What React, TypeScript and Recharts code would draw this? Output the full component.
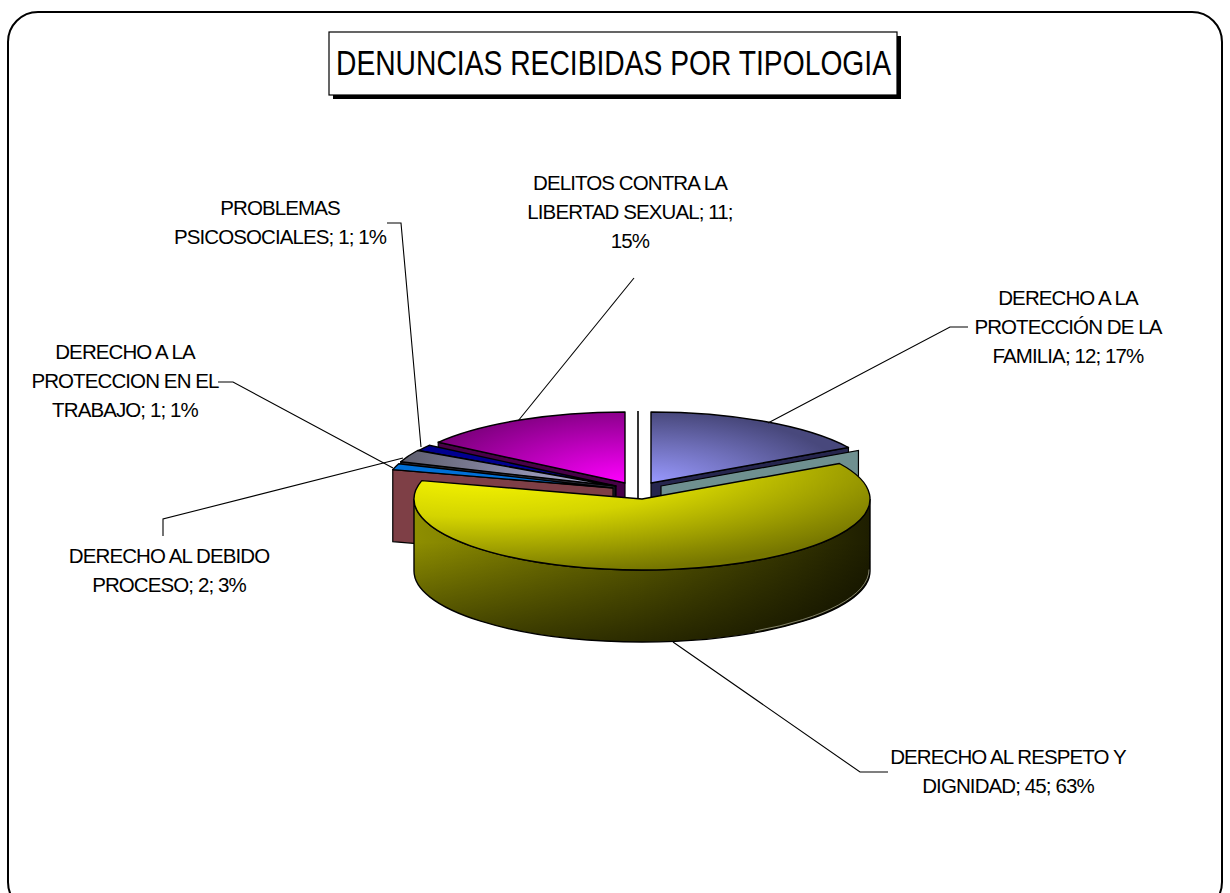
import React from 'react';
import { PieChart, Pie } from 'recharts';

const categories = [
  'DERECHO A LA PROTECCIÓN DE LA FAMILIA',
  'DELITOS CONTRA LA LIBERTAD SEXUAL',
  'PROBLEMAS PSICOSOCIALES',
  'DERECHO AL DEBIDO PROCESO',
  'DERECHO A LA PROTECCION EN EL TRABAJO',
  'DERECHO AL RESPETO Y DIGNIDAD',
];
const counts = [12, 11, 1, 2, 1, 45];
const chartTitle = 'DENUNCIAS RECIBIDAS POR TIPOLOGIA';
const rows = categories.map((name, i) => ({ name, value: counts[i] }));

const FONT = '"Liberation Sans", Arial, sans-serif';
const RX = 228;
const RY = 71;
const DEPTH = 72;
const BASE_X = 632;
const BASE_Y = 484;

type Look = {
  dx: number; dy: number; top: string; face: string; faceAt: 'start' | 'end' | 'none';
  wrap: number; tx: number; ty: number; leader: number[][];
};
const LOOKS: Look[] = [
  { dx: 19, dy: -1, top: 'url(#gFam)', face: '#26264e', faceAt: 'end', wrap: 16, tx: 1068, ty: 298,
    leader: [[968, 327], [950, 327], [768, 423]] },
  { dx: -7, dy: -1, top: 'url(#gDel)', face: '#480048', faceAt: 'start', wrap: 20, tx: 630, ty: 183,
    leader: [[634, 278], [518, 421]] },
  { dx: -16, dy: 2, top: '#000090', face: '#00003c', faceAt: 'start', wrap: 20, tx: 280, ty: 208,
    leader: [[387, 223], [401, 223], [421, 447]] },
  { dx: -17, dy: 2, top: 'url(#gGrey)', face: '#2c2c38', faceAt: 'start', wrap: 17, tx: 169, ty: 556,
    leader: [[163, 536], [163, 519], [403, 458]] },
  { dx: -19, dy: 4, top: '#0070d8', face: '#7e3f46', faceAt: 'start', wrap: 16, tx: 125, ty: 352,
    leader: [[218, 382], [233, 382], [393, 468]] },
  { dx: 10, dy: 15, top: 'url(#gYel)', face: 'none', faceAt: 'none', wrap: 20, tx: 1008, ty: 757,
    leader: [[673, 642], [860, 772], [888, 772]] },
];

const rad = (d: number) => (d * Math.PI) / 180;
const P = (t: number, x: number, y: number) => [x + RX * Math.sin(rad(t)), y - RY * Math.cos(rad(t))];
const f = (n: number) => n.toFixed(2);

function wrapText(text: string, max: number) {
  const out: string[] = [];
  let cur = '';
  text.split(' ').forEach((w) => {
    const next = cur ? cur + ' ' + w : w;
    if (next.length > max && cur) { out.push(cur); cur = w; } else cur = next;
  });
  if (cur) out.push(cur);
  return out;
}

function faceAt(t: number, x: number, y: number) {
  const [ex, ey] = P(t, x, y);
  return `M${f(x)},${f(y)}L${f(ex)},${f(ey)}L${f(ex)},${f(ey + DEPTH)}L${f(x)},${f(y + DEPTH)}Z`;
}

function SliceShape(props: any) {
  const i = categories.indexOf(props.name ?? props.payload?.name);
  const look = LOOKS[i];
  const x = props.cx + look.dx;
  const y = props.cy + look.dy;
  const t1 = 90 - props.endAngle;
  const t2 = 90 - props.startAngle;
  const [ax, ay] = P(t1, x, y);
  const [bx, by] = P(t2, x, y);
  const large = t2 - t1 > 180 ? 1 : 0;
  const top = `M${f(x)},${f(y)}L${f(ax)},${f(ay)}A${RX},${RY} 0 ${large} 1 ${f(bx)},${f(by)}Z`;
  const isBig = t2 - t1 > 180;
  let wall = '';
  let glint = '';
  if (isBig) {
    const [rx, ry] = [x + RX, y];
    const [lx, ly] = [x - RX, y];
    wall = `M${f(rx)},${f(ry)}A${RX},${RY} 0 0 1 ${f(lx)},${f(ly)}L${f(lx)},${f(ly + DEPTH)}A${RX},${RY} 0 0 0 ${f(rx)},${f(ry + DEPTH)}Z`;
    const [gx, gy] = P(150, x - 1, y + DEPTH - 1.5);
    glint = `M${f(rx - 1)},${f(ry + DEPTH - 1.5)}A${RX},${RY} 0 0 1 ${f(gx)},${f(gy)}`;
  }
  const isFamily = i === 0;
  return (
    <g>
      {isFamily && <line x1={x - 13} y1={y - RY - 1} x2={x - 13} y2={y + 16} stroke="#000" strokeWidth={1.6} />}
      {look.faceAt !== 'none' && (
        <path d={faceAt(look.faceAt === 'end' ? t2 : t1, x, y)} fill={look.face} stroke="#000" strokeWidth={1.2} />
      )}
      {isFamily && <path d={faceAt(t2, x + 10, y + 3)} fill="#6f9090" stroke="#000" strokeWidth={1.2} />}
      {wall && (
        <>
          <path d={wall} fill="url(#gWall)" stroke="#000" strokeWidth={1.4} />
          <path d={wall} fill="url(#gWallShade)" stroke="none" />
          <path d={glint} fill="none" stroke="#9a9a84" strokeWidth={0.8} />
        </>
      )}
      <path d={top} fill={look.top} stroke="#000" strokeWidth={1.4} strokeLinejoin="round" />
    </g>
  );
}

function SliceLabel(props: any) {
  const name = props.name ?? props.payload?.name;
  const look = LOOKS[categories.indexOf(name)];
  const pct = Math.round((props.percent ?? 0) * 100);
  const lines = wrapText(`${name}; ${props.value}; ${pct}%`, look.wrap);
  return (
    <text x={look.tx} y={look.ty + 7} textAnchor="middle" fontFamily={FONT} fontSize={20.5} letterSpacing={-0.9} fill="#000">
      {lines.map((l, k) => (
        <tspan key={k} x={look.tx} y={look.ty + 7 + k * 29}>{l}</tspan>
      ))}
    </text>
  );
}

function SliceLeader(props: any) {
  const name = props.name ?? props.payload?.name;
  const look = LOOKS[categories.indexOf(name)];
  return <polyline points={look.leader.map((p) => p.join(',')).join(' ')} fill="none" stroke="#000" strokeWidth={1.1} />;
}

export default function App() {
  return (
    <div style={{ position: 'absolute', left: 0, top: 0 }}>
      <PieChart width={1230} height={893} margin={{ top: 0, right: 0, bottom: 0, left: 0 }}>
        <defs>
          <radialGradient id="gDel" cx="1" cy="1" r="1.15">
            <stop offset="0" stopColor="#ff00ff" />
            <stop offset="1" stopColor="#7a007a" />
          </radialGradient>
          <radialGradient id="gFam" cx="0" cy="1" r="1">
            <stop offset="0" stopColor="#9999ff" />
            <stop offset="0.55" stopColor="#6e6eb8" />
            <stop offset="1" stopColor="#48487c" />
          </radialGradient>
          <linearGradient id="gGrey" x1="0" y1="0" x2="1" y2="0">
            <stop offset="0" stopColor="#5c5c6c" />
            <stop offset="1" stopColor="#b4b4dc" />
          </linearGradient>
          <radialGradient id="gYel" cx="0.15" cy="0" r="1.05">
            <stop offset="0" stopColor="#ffff00" />
            <stop offset="0.48" stopColor="#d4d400" />
            <stop offset="0.88" stopColor="#8a8a00" />
            <stop offset="1" stopColor="#767600" />
          </radialGradient>
          <linearGradient id="gWall" x1="0" y1="0" x2="1" y2="0">
            <stop offset="0" stopColor="#8e8e00" />
            <stop offset="0.5" stopColor="#5c5c00" />
            <stop offset="1" stopColor="#1e1e00" />
          </linearGradient>
          <linearGradient id="gWallShade" x1="0" y1="0" x2="0" y2="1">
            <stop offset="0.3" stopColor="#000" stopOpacity="0" />
            <stop offset="1" stopColor="#000" stopOpacity="0.55" />
          </linearGradient>
        </defs>
        <rect x={8} y={12} width={1214} height={900} rx={30} ry={30} fill="#fff" stroke="#000" strokeWidth={2} />
        <rect x={333} y={36} width={568} height={63} fill="#000" />
        <rect x={329} y={32} width={568} height={63} fill="#fff" stroke="#000" strokeWidth={1.2} />
        <text x={336} y={75} textAnchor="start" fontFamily={FONT} fontSize={35} textLength={555} lengthAdjust="spacingAndGlyphs" fill="#000">{chartTitle}</text>
        <Pie
          data={rows}
          dataKey="value"
          nameKey="name"
          cx={BASE_X}
          cy={BASE_Y}
          innerRadius={0}
          outerRadius={RX}
          startAngle={30}
          endAngle={390}
          paddingAngle={0}
          stroke="none"
          isAnimationActive={false}
          shape={SliceShape}
          label={SliceLabel}
          labelLine={SliceLeader}
        />
      </PieChart>
    </div>
  );
}
